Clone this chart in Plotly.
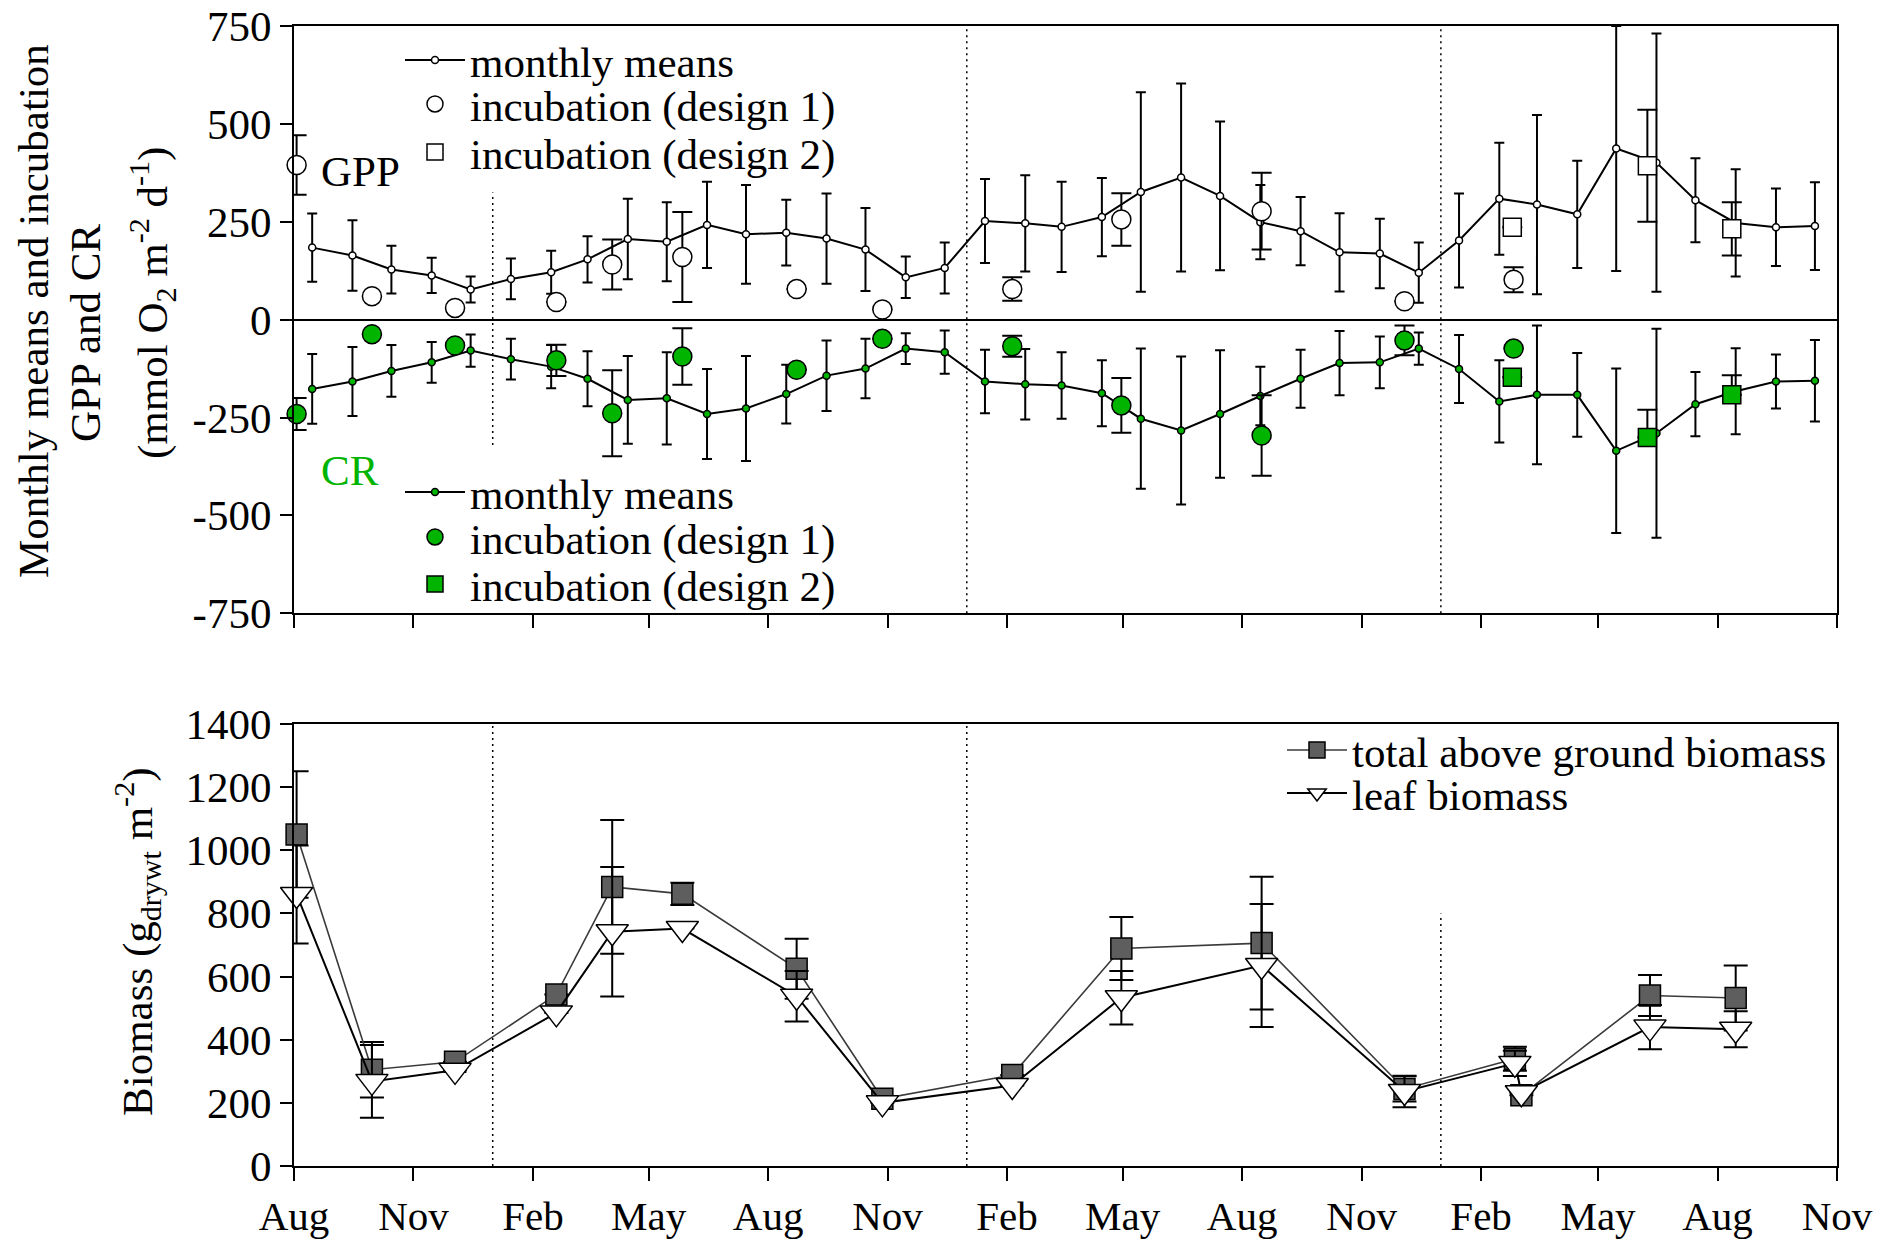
import plotly.graph_objects as go

# ------------------------------------------------------------------
# Data
# ------------------------------------------------------------------
# Monthly means of GPP and CR (mid-month), mmol O2 m-2 d-1
month_dates = [
    "2005-08-15", "2005-09-15", "2005-10-15", "2005-11-15", "2005-12-15",
    "2006-01-15", "2006-02-15", "2006-03-15", "2006-04-15", "2006-05-15", "2006-06-15",
    "2006-07-15", "2006-08-15", "2006-09-15", "2006-10-15", "2006-11-15", "2006-12-15",
    "2007-01-15", "2007-02-15", "2007-03-15", "2007-04-15", "2007-05-15", "2007-06-15",
    "2007-07-15", "2007-08-15", "2007-09-15", "2007-10-15", "2007-11-15", "2007-12-15",
    "2008-01-15", "2008-02-15", "2008-03-15", "2008-04-15", "2008-05-15", "2008-06-15",
    "2008-07-15", "2008-08-15", "2008-09-15", "2008-10-15",
]
gpp_mean = [184, 164, 128, 113, 77,
            104, 121, 154, 206, 199, 242, 218, 222, 207, 179, 108, 132,
            252, 246, 237, 262, 326, 363, 316, 249, 226, 172, 169, 120,
            202, 309, 294, 269, 437, 401, 305, 247, 236, 239]
gpp_mean_err = [87, 90, 61, 45, 33,
                52, 55, 59, 103, 101, 110, 126, 84, 115, 106, 53, 65,
                107, 123, 115, 100, 255, 240, 190, 95, 87, 100, 89, 77,
                120, 143, 229, 137, 313, 330, 107, 137, 99, 112]
cr_mean = [-177, -158, -131, -109, -79,
           -101, -120, -151, -205, -201, -241, -227, -190, -143, -125, -74, -83,
           -158, -165, -168, -188, -253, -283, -241, -195, -151, -111, -109, -74,
           -126, -209, -192, -192, -335, -290, -216, -183, -158, -156]
cr_mean_err = [89, 88, 66, 52, 41,
               52, 55, 70, 112, 118, 115, 134, 75, 90, 76, 39, 55,
               81, 90, 85, 84, 179, 189, 163, 75, 74, 82, 66, 41,
               87, 105, 177, 107, 210, 267, 82, 110, 69, 104]

# Incubations, design 1
inc1_dates = ["2005-08-03", "2005-09-30", "2005-12-03", "2006-02-19", "2006-04-03",
              "2006-05-27", "2006-08-23", "2006-10-28", "2007-02-05", "2007-04-30",
              "2007-08-16", "2007-12-04", "2008-02-26"]
gpp_inc1 = [395, 60, 30, 45, 141, 160, 78, 26, 78, 256, 277, 47, 102]
gpp_inc1_err = [76, 0, 0, 0, 64, 115, 0, 0, 30, 67, 98, 0, 32]
cr_inc1 = [-241, -37, -66, -104, -239, -94, -128, -49, -68, -219, -296, -53, -74]
cr_inc1_err = [41, 0, 0, 40, 110, 72, 0, 0, 27, 70, 103, 38, 0]

# Incubations, design 2
inc2_dates = ["2008-02-25", "2008-06-08", "2008-08-12"]
gpp_inc2 = [236, 393, 232]
gpp_inc2_err = [0, 143, 68]
cr_inc2 = [-147, -301, -192]
cr_inc2_err_up = [0, 71, 50]
cr_inc2_err_down = [0, 0, 0]

# Biomass, g dry wt m-2
bio_dates = ["2005-08-03", "2005-09-30", "2005-12-03", "2006-02-19", "2006-04-03",
             "2006-05-27", "2006-08-23", "2006-10-28", "2007-02-05", "2007-04-30",
             "2007-08-16", "2007-12-04", "2008-02-27", "2008-03-03", "2008-06-10",
             "2008-08-15"]
total_bio = [1050, 305, 330, 543, 884, 862, 625, 213, 288, 689, 706, 244, 340, 224, 540, 532]
total_bio_err = [200, 88, 0, 0, 212, 35, 95, 0, 0, 100, 210, 40, 38, 0, 65, 103]
leaf_bio = [860, 268, 303, 485, 742, 752, 538, 200, 255, 533, 635, 236, 325, 232, 440, 433]
leaf_bio_err = [155, 115, 0, 0, 205, 0, 80, 0, 0, 85, 195, 50, 40, 0, 70, 57]

# Axis ticks
flux_ticks = [750, 500, 250, 0, -250, -500, -750]
flux_tick_text = ["750", "500", "250", "0", "-250", "-500", "-750"]
year_breaks = ["2006-01-01", "2007-01-01", "2008-01-01"]
x_start, x_end = "2005-08-01", "2008-11-01"

# ------------------------------------------------------------------
# Styling / layout helpers
# ------------------------------------------------------------------
FONT = "Liberation Serif"
GREEN = "#00b400"
W, H = 1898, 1239
ML, MR, MT, MB = 294, 61, 26, 73


def px_x(px):
    return (px - ML) / (W - ML - MR)


def px_y(py):
    return (H - MB - py) / (H - MT - MB)


fig = go.Figure()

# ---------------- top panel: GPP ----------------
fig.add_trace(go.Scatter(
    x=month_dates, y=gpp_mean, mode="lines+markers", xaxis="x2", yaxis="y2",
    name="monthly means", legend="legend", cliponaxis=False,
    line=dict(color="black", width=2),
    marker=dict(symbol="circle", size=7, color="white", line=dict(color="black", width=1.5)),
    error_y=dict(type="data", array=gpp_mean_err, color="black", thickness=2, width=5),
))
fig.add_trace(go.Scatter(
    x=inc1_dates, y=gpp_inc1, mode="markers", xaxis="x2", yaxis="y2",
    name="incubation (design 1)", legend="legend2", cliponaxis=False,
    marker=dict(symbol="circle", size=19, color="white", line=dict(color="black", width=1.5)),
    error_y=dict(type="data", array=gpp_inc1_err, color="black", thickness=2, width=10),
))
fig.add_trace(go.Scatter(
    x=inc2_dates, y=gpp_inc2, mode="markers", xaxis="x2", yaxis="y2",
    name="incubation (design 2)", legend="legend3", cliponaxis=False,
    marker=dict(symbol="square", size=18, color="white", line=dict(color="black", width=1.5)),
    error_y=dict(type="data", array=gpp_inc2_err, color="black", thickness=2, width=10),
))

# ---------------- top panel: CR ----------------
fig.add_trace(go.Scatter(
    x=month_dates, y=cr_mean, mode="lines+markers", xaxis="x2", yaxis="y2",
    name="monthly means", legend="legend4", cliponaxis=False,
    line=dict(color="black", width=2),
    marker=dict(symbol="circle", size=7, color=GREEN, line=dict(color="black", width=1.5)),
    error_y=dict(type="data", array=cr_mean_err, color="black", thickness=2, width=5),
))
fig.add_trace(go.Scatter(
    x=inc1_dates, y=cr_inc1, mode="markers", xaxis="x2", yaxis="y2",
    name="incubation (design 1)", legend="legend5", cliponaxis=False,
    marker=dict(symbol="circle", size=19, color=GREEN, line=dict(color="black", width=1.5)),
    error_y=dict(type="data", array=cr_inc1_err, color="black", thickness=2, width=10),
))
fig.add_trace(go.Scatter(
    x=inc2_dates, y=cr_inc2, mode="markers", xaxis="x2", yaxis="y2",
    name="incubation (design 2)", legend="legend6", cliponaxis=False,
    marker=dict(symbol="square", size=18, color=GREEN, line=dict(color="black", width=1.5)),
    error_y=dict(type="data", symmetric=False, array=cr_inc2_err_up,
                 arrayminus=cr_inc2_err_down, color="black", thickness=2, width=10),
))

# ---------------- bottom panel: biomass ----------------
fig.add_trace(go.Scatter(
    x=bio_dates, y=total_bio, mode="lines+markers", xaxis="x", yaxis="y",
    name="total above ground biomass", legend="legend7", cliponaxis=False,
    line=dict(color="#3a3a3a", width=1.6),
    marker=dict(symbol="square", size=21, color="#5e5e5e", line=dict(color="black", width=1.5)),
    error_y=dict(type="data", array=total_bio_err, color="black", thickness=2, width=12),
))
fig.add_trace(go.Scatter(
    x=bio_dates, y=leaf_bio, mode="lines+markers", xaxis="x", yaxis="y",
    name="leaf biomass", legend="legend8", cliponaxis=False,
    line=dict(color="black", width=2),
    marker=dict(symbol="triangle-down", size=28, color="white", line=dict(color="black", width=1.5)),
    error_y=dict(type="data", array=leaf_bio_err, color="black", thickness=2, width=12),
))

# ---------------- axes ----------------
base_axis = dict(showline=True, linecolor="black", linewidth=2, mirror=True,
                 ticks="outside", ticklen=13, tickwidth=2, tickcolor="black",
                 showgrid=False, zeroline=False, automargin=False,
                 tickfont=dict(family=FONT, size=43, color="black"))

xaxis_bottom = {**base_axis, "type": "date", "range": [x_start, x_end], "tick0": x_start,
                "dtick": "M3", "tickformat": "%b", "anchor": "y", "domain": [0, 1],
                "tickfont": dict(family=FONT, size=41, color="black")}
xaxis_top = {**base_axis, "type": "date", "range": [x_start, x_end], "tick0": x_start,
             "dtick": "M3", "showticklabels": False, "anchor": "y2", "domain": [0, 1],
             "matches": "x"}
yaxis_bottom = {**base_axis, "range": [0, 1400], "tick0": 0, "dtick": 200,
                "anchor": "x", "domain": [0, px_y(724)], "ticklen": 12}
yaxis_top = {**base_axis, "range": [-750, 750], "tickmode": "array",
             "tickvals": flux_ticks, "ticktext": flux_tick_text,
             "anchor": "x2", "domain": [px_y(613.3), 1], "ticklen": 12,
             "zeroline": True, "zerolinecolor": "black", "zerolinewidth": 2}

# ---------------- legends (one entry each) ----------------
def legend_at(px, py):
    return dict(x=px_x(px), y=px_y(py), xanchor="left", yanchor="middle",
                bgcolor="rgba(0,0,0,0)", borderwidth=0, itemwidth=60,
                font=dict(family=FONT, size=43, color="black"))


legends = dict(
    legend=legend_at(400, 60),
    legend2=legend_at(400, 104),
    legend3=legend_at(400, 152),
    legend4=legend_at(400, 492),
    legend5=legend_at(400, 537),
    legend6=legend_at(400, 584),
    legend7=legend_at(1282, 750),
    legend8=legend_at(1282, 793),
)

# ---------------- year separators ----------------
dot = dict(color="black", width=1.5, dash="2px,4px")
shapes = [
    dict(type="line", xref="x2", yref="y2", x0=year_breaks[0], x1=year_breaks[0],
         y0=-320, y1=325, line=dot),
    dict(type="line", xref="x2", yref="y2 domain", x0=year_breaks[1], x1=year_breaks[1],
         y0=0, y1=1, line=dot),
    dict(type="line", xref="x2", yref="y2 domain", x0=year_breaks[2], x1=year_breaks[2],
         y0=0, y1=1, line=dot),
    dict(type="line", xref="x", yref="y domain", x0=year_breaks[0], x1=year_breaks[0],
         y0=0, y1=1, line=dot),
    dict(type="line", xref="x", yref="y domain", x0=year_breaks[1], x1=year_breaks[1],
         y0=0, y1=1, line=dot),
    dict(type="line", xref="x", yref="y", x0=year_breaks[2], x1=year_breaks[2],
         y0=0, y1=800, line=dot),
]

# ---------------- labels ----------------
def label(text, px, py, angle=0, color="black", anchor="center"):
    return dict(text=text, xref="paper", yref="paper", x=px_x(px), y=px_y(py),
                xanchor=anchor, yanchor="middle", textangle=angle, showarrow=False,
                font=dict(family=FONT, size=43, color=color))


annotations = [
    label("GPP", 319, 172, anchor="left"),
    label("CR", 319, 470, color=GREEN, anchor="left"),
    label("Monthly means and incubation", 33, 311, angle=-90),
    label("GPP and CR", 86, 333, angle=-90),
    label("(mmol O<sub>2</sub> m<sup>-2</sup> d<sup>-1</sup>)", 152, 303, angle=-90),
    label("Biomass (g<sub>drywt</sub> m<sup>-2</sup>)", 137, 942, angle=-90),
]

fig.update_layout(
    width=W, height=H,
    margin=dict(l=ML, r=MR, t=MT, b=MB, autoexpand=False),
    paper_bgcolor="white", plot_bgcolor="white",
    font=dict(family=FONT, size=43, color="black"),
    xaxis=xaxis_bottom, xaxis2=xaxis_top,
    yaxis=yaxis_bottom, yaxis2=yaxis_top,
    shapes=shapes, annotations=annotations,
    showlegend=True,
    **legends,
)

fig.write_html("out.html", config={"displayModeBar": False})
